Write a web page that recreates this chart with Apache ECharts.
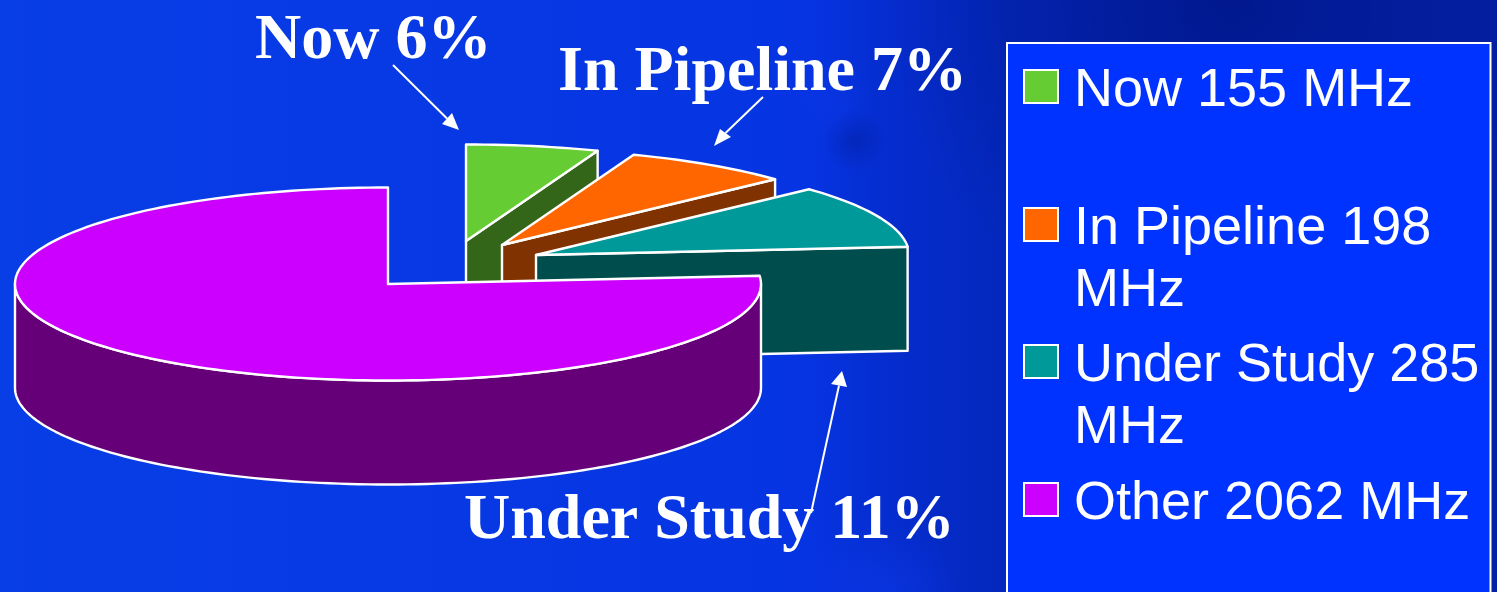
<!DOCTYPE html>
<html>
<head>
<meta charset="utf-8">
<style>html,body{margin:0;padding:0;background:#0a3ce0}#c{width:1497px;height:592px}</style>
<script src="https://cdn.jsdelivr.net/npm/echarts@6/dist/echarts.min.js"></script>
</head>
<body>
<div id="c"></div>
<script>
// --- data ---
var categories = ['Now', 'In Pipeline', 'Under Study', 'Other'];
var valuesMHz = [155, 198, 285, 2062];
var legendLabels = [['Now 155 MHz'], ['In Pipeline 198', 'MHz'], ['Under Study 285', 'MHz'], ['Other 2062 MHz']];
var percentLabels = ['Now 6%', 'In Pipeline 7%', 'Under Study 11%'];

// --- styles ---
var topColors = ['#66CC33', '#FF6600', '#009999', '#CC00FF'];
var sideColors = ['#336619', '#803300', '#004D4D', '#660078'];

// --- layout of the tilted pie ---
var pie = { cx: 388, cy: 284, rx: 373, ry: 96.5, depth: 104 };
var explode = [[78, -43], [114, -39], [148, -29], [0, 0]];
var legendIconTops = [70, 208, 345, 483];
var LEGEND_LINE = 62, LEGEND_NUDGE = 5, LEGEND_ICON = 33;

var total = valuesMHz.reduce(function (a, b) { return a + b; }, 0);
var DEG = Math.PI / 180;

function sliceAngles(i) {
  var before = 0;
  for (var k = 0; k < i; k++) before += valuesMHz[k];
  return [before / total * 360, (before + valuesMHz[i]) / total * 360];
}
function pt(cx, cy, deg, dy) {
  return [cx + pie.rx * Math.sin(deg * DEG), cy - pie.ry * Math.cos(deg * DEG) + (dy || 0)];
}
function arc(cx, cy, a, b, dy) {
  var n = Math.max(2, Math.ceil(Math.abs(b - a) / 1.5));
  var out = [];
  for (var j = 0; j <= n; j++) out.push(pt(cx, cy, a + (b - a) * j / n, dy));
  return out;
}
var edge = { stroke: '#fff', lineWidth: 2.4, lineJoin: 'round' };

function renderSlice(i) {
  return function () {
    var ang = sliceAngles(i), a = ang[0], b = ang[1];
    var cx = pie.cx + explode[i][0], cy = pie.cy + explode[i][1], d = pie.depth;
    var children = [];
    function poly(points, fill) {
      children.push({
        type: 'polygon',
        shape: { points: points },
        style: { fill: fill, stroke: edge.stroke, lineWidth: edge.lineWidth, lineJoin: edge.lineJoin }
      });
    }
    // cut face that looks towards the viewer
    if (b > 0 && b < 180) {
      var e = pt(cx, cy, b);
      poly([[cx, cy], e, [e[0], e[1] + d], [cx, cy + d]], sideColors[i]);
    }
    // rim of the slice, front half only
    var f0 = Math.max(a, 90), f1 = Math.min(b, 270);
    if (f1 > f0) {
      poly(arc(cx, cy, f0, f1).concat(arc(cx, cy, f1, f0, d)), sideColors[i]);
    }
    // top face
    poly([[cx, cy]].concat(arc(cx, cy, a, b)), topColors[i]);
    return { type: 'group', children: children };
  };
}

var series = categories.map(function (name, i) {
  return {
    type: 'custom',
    name: name,
    coordinateSystem: 'none',
    data: [[valuesMHz[i]]],
    renderItem: renderSlice(i),
    itemStyle: { color: topColors[i] },
    silent: true,
    clip: false,
    z: 2 + i
  };
});

var legends = categories.map(function (name, i) {
  var lines = legendLabels[i];
  // A spacer line above the text keeps the icon level with the first text line.
  var spacer = (lines.length - 1) * LEGEND_LINE + 2 * LEGEND_NUDGE;
  var boxHeight = spacer + lines.length * LEGEND_LINE;
  return {
    data: [name],
    left: 1023,
    top: legendIconTops[i] - (boxHeight - LEGEND_ICON) / 2,
    orient: 'vertical',
    padding: 0,
    icon: 'rect',
    itemWidth: 34,
    itemHeight: LEGEND_ICON,
    itemStyle: { borderColor: '#fff', borderWidth: 2 },
    selectedMode: false,
    z: 6,
    formatter: function () {
      return '{s| }\n' + lines.map(function (t) { return '{t|' + t + '}'; }).join('\n');
    },
    textStyle: {
      padding: [0, 0, 0, 11],
      rich: {
        s: { height: spacer, lineHeight: spacer, fontSize: 1, color: 'transparent' },
        t: { color: '#fff', fontFamily: 'Liberation Sans', fontSize: 54, height: LEGEND_LINE, lineHeight: LEGEND_LINE }
      }
    }
  };
});

function blob(x, y, r, color, alpha) {
  return {
    type: 'rect', z: 0, silent: true,
    shape: { x: 0, y: 0, width: 1497, height: 592 },
    style: {
      fill: {
        type: 'radial', global: true, x: x, y: y, r: r,
        colorStops: [
          { offset: 0, color: 'rgba(' + color + ',' + alpha + ')' },
          { offset: 1, color: 'rgba(' + color + ',0)' }
        ]
      }
    }
  };
}
function arrow(x0, y0, x1, y1, hx0, hy0, hx1, hy1) {
  return [
    { type: 'line', z: 7, silent: true, shape: { x1: x0, y1: y0, x2: (hx0 + hx1) / 2, y2: (hy0 + hy1) / 2 }, style: { stroke: '#fff', lineWidth: 2 } },
    { type: 'polygon', z: 7, silent: true, shape: { points: [[x1, y1], [hx0, hy0], [hx1, hy1]] }, style: { fill: '#fff' } }
  ];
}
function bigLabel(text, x, baseline) {
  return {
    type: 'text', z: 7, silent: true, x: x, y: baseline - 48,
    style: { text: text, fill: '#fff', font: 'bold 64px "Liberation Serif"', verticalAlign: 'top' }
  };
}

var graphics = [
  {
    type: 'rect', z: 0, silent: true,
    shape: { x: 0, y: 0, width: 1497, height: 592 },
    style: {
      fill: {
        type: 'linear', x: 0, y: 0, x2: 1, y2: 0,
        colorStops: [
          { offset: 0, color: '#083EE6' },
          { offset: 0.54, color: '#0634E2' },
          { offset: 0.60, color: '#052CCC' },
          { offset: 0.67, color: '#0428BE' },
          { offset: 1, color: '#0420A6' }
        ]
      }
    }
  },
  blob(1230, 0, 340, '0,20,130', 0.75),
  blob(855, 140, 32, '0,30,160', 0.5),
  blob(830, 100, 45, '12,55,230', 0.5),
  blob(880, 600, 80, '12,55,230', 0.7),
  {
    type: 'rect', z: 1, silent: true,
    shape: { x: 1007, y: 43, width: 483.5, height: 570 },
    style: { fill: '#0033FF', stroke: '#fff', lineWidth: 2 }
  },
  bigLabel(percentLabels[0], 255, 57),
  bigLabel(percentLabels[1], 558, 89),
  bigLabel(percentLabels[2], 464, 537)
]
  .concat(arrow(393, 65, 459, 130, 442, 124, 452, 113))
  .concat(arrow(763, 97, 714, 146, 731, 137, 720, 129))
  .concat(arrow(811, 513, 842, 371, 831, 384, 847, 387));

var chart = echarts.init(document.getElementById('c'), null, { renderer: 'canvas', width: 1497, height: 592 });
chart.setOption({
  animation: false,
  backgroundColor: 'transparent',
  legend: legends,
  graphic: graphics,
  series: series
});
</script>
</body>
</html>
